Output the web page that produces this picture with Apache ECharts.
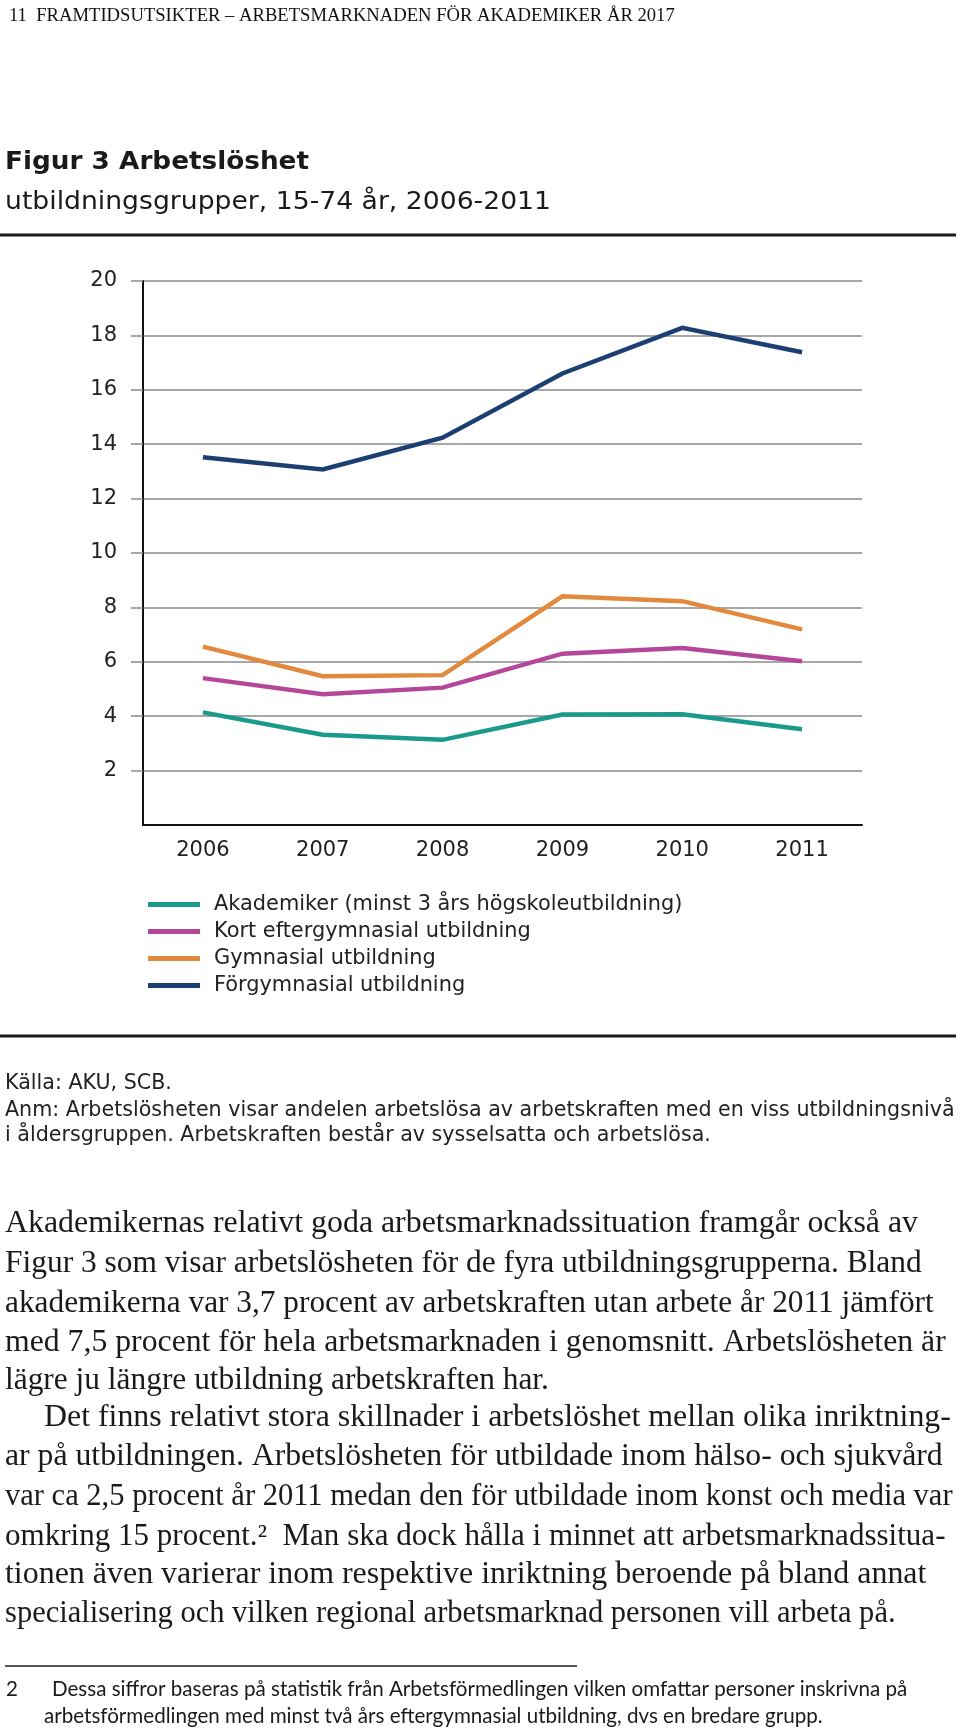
<!DOCTYPE html>
<html>
<head>
<meta charset="utf-8">
<script src="https://cdn.jsdelivr.net/npm/echarts@6/dist/echarts.min.js"></script>
<style>
html,body{margin:0;padding:0;background:#fff;}
#chart{width:960px;height:1731px;}
</style>
</head>
<body>
<div id="chart"></div>
<script>
// ---- data ----
const years = ['2006', '2007', '2008', '2009', '2010', '2011'];
const akademiker = [4.14, 3.32, 3.13, 4.06, 4.07, 3.52];
const kortEfter = [5.40, 4.81, 5.05, 6.30, 6.51, 6.02];
const gymnasial = [6.56, 5.47, 5.51, 8.41, 8.23, 7.19];
const forgymnasial = [13.52, 13.07, 14.24, 16.60, 18.28, 17.38];
const yTicks = [2, 4, 6, 8, 10, 12, 14, 16, 18, 20];
const seriesNames = [
  'Akademiker (minst 3 års högskoleutbildning)',
  'Kort eftergymnasial utbildning',
  'Gymnasial utbildning',
  'Förgymnasial utbildning'
];
const seriesColors = ['#1a9a8b', '#b5479b', '#e3893d', '#1c3f73'];

const headerText = '11  FRAMTIDSUTSIKTER – ARBETSMARKNADEN FÖR AKADEMIKER ÅR 2017';
const titleText = 'Figur 3 Arbetslöshet';
const subtitleText = 'utbildningsgrupper, 15-74 år, 2006-2011';
const sourceLines = [
  'Källa: AKU, SCB.',
  'Anm: Arbetslösheten visar andelen arbetslösa av arbetskraften med en viss utbildningsnivå',
  'i åldersgruppen. Arbetskraften består av sysselsatta och arbetslösa.'
];
const bodyLines = [
  'Akademikernas relativt goda arbetsmarknadssituation framgår också av',
  'Figur 3 som visar arbetslösheten för de fyra utbildningsgrupperna. Bland',
  'akademikerna var 3,7 procent av arbetskraften utan arbete år 2011 jämfört',
  'med 7,5 procent för hela arbetsmarknaden i genomsnitt. Arbetslösheten är',
  'lägre ju längre utbildning arbetskraften har.',
  'Det finns relativt stora skillnader i arbetslöshet mellan olika inriktning-',
  'ar på utbildningen. Arbetslösheten för utbildade inom hälso- och sjukvård',
  'var ca 2,5 procent år 2011 medan den för utbildade inom konst och media var',
  'omkring 15 procent.²  Man ska dock hålla i minnet att arbetsmarknadssitua-',
  'tionen även varierar inom respektive inriktning beroende på bland annat',
  'specialisering och vilken regional arbetsmarknad personen vill arbeta på.'
];
const footnoteNum = '2';
const footnoteLines = [
  'Dessa siffror baseras på statistik från Arbetsförmedlingen vilken omfattar personer inskrivna på',
  'arbetsförmedlingen med minst två års eftergymnasial utbildning, dvs en bredare grupp.'
];

// ---- helpers ----
const cv = document.createElement('canvas').getContext('2d');
function measure(text, family, weight, size) {
  cv.font = (weight || 'normal') + ' ' + size + 'px ' + family;
  return cv.measureText(text).width;
}
function fitSize(text, family, weight, target) {
  return 100 * target / measure(text, family, weight, 100);
}

const SANS = '"DejaVu Sans", Verdana, sans-serif';
const SERIF = '"Liberation Serif", "Times New Roman", serif';
const HUM = 'Lato, "Open Sans", sans-serif';

const headerSize = fitSize(headerText, '"Liberation Serif"', 'normal', 666);
const srcSize = fitSize(sourceLines[1], '"DejaVu Sans"', 'normal', 950);
const legendSize = fitSize(seriesNames[0], '"DejaVu Sans"', 'normal', 469);
// body: per-line fit (right edges of the reference lines)
const bodyStarts = [5, 5, 5, 5, 5, 44, 5, 5, 5, 5, 5];
const bodyEnds = [918, 922, 934, 946, null, 951, 943, 953, 946, 927, 896];
let sumT = 0, sumW = 0;
bodyLines.forEach((l, i) => { if (bodyEnds[i]) { sumT += bodyEnds[i] - bodyStarts[i]; sumW += measure(l, '"Liberation Serif"', 'normal', 100); } });
const bodyCommon = 100 * sumT / sumW;
const bodySizes = bodyLines.map((l, i) => bodyEnds[i] ? fitSize(l, '"Liberation Serif"', 'normal', bodyEnds[i] - bodyStarts[i]) : bodyCommon);
const footSize = fitSize(footnoteLines[0], 'Lato', 'normal', 856);

const graphics = [];
function txt(x, y, text, size, family, weight, color, targetW) {
  let sx = 1;
  if (targetW) sx = targetW / measure(text, family.split(',')[0], weight, size);
  graphics.push({
    type: 'text', x: x, y: y, scaleX: sx, silent: true,
    style: { text: text, x: 0, y: 0, fontSize: size, fontFamily: family, fontWeight: weight || 'normal', fill: color || '#1a1a1a', verticalAlign: 'middle', align: 'left' }
  });
}
function hline(x1, x2, y, w, color) {
  graphics.push({ type: 'line', silent: true, shape: { x1: x1, y1: y, x2: x2, y2: y }, style: { stroke: color || '#1a1a1a', lineWidth: w } });
}

txt(9, 16, headerText, headerSize, SERIF, 'normal', '#111');
txt(5, 162, titleText, 25, SANS, 'bold', '#1a1a1a', 304);
txt(5, 203, subtitleText, 24.5, SANS, 'normal', '#1a1a1a', 546);
hline(0, 956, 235, 3);
hline(0, 956, 1036, 3);
const srcY = [1084, 1111, 1136];
sourceLines.forEach((l, i) => txt(5, srcY[i], l, srcSize, SANS, 'normal', '#222'));
const bodyY = [1224, 1264, 1304, 1343, 1381, 1418, 1457, 1497, 1537, 1575, 1614];
bodyLines.forEach((l, i) => txt(bodyStarts[i], bodyY[i], l, bodySizes[i], SERIF, 'normal', '#1a1a1a'));
hline(5, 577, 1666, 1.5);
txt(6, 1689, footnoteNum, footSize, HUM, 'normal', '#1a1a1a');
txt(52, 1689, footnoteLines[0], footSize, HUM, 'normal', '#1a1a1a');
txt(44, 1716, footnoteLines[1], footSize, HUM, 'normal', '#1a1a1a');

const seriesData = [akademiker, kortEfter, gymnasial, forgymnasial];

const chart = echarts.init(document.getElementById('chart'), null, { renderer: 'canvas' });
chart.setOption({
  animation: false,
  backgroundColor: '#fff',
  textStyle: { fontFamily: SANS },
  grid: { left: 143, right: 98, top: 281, bottom: 906, containLabel: false },
  legend: {
    orient: 'vertical', left: 143, top: 889,
    itemWidth: 52, itemHeight: 5, itemGap: 6, icon: 'rect',
    selectedMode: false,
    textStyle: { fontSize: legendSize, lineHeight: 21, color: '#222', fontFamily: SANS, padding: [0, 0, 0, 9] },
    data: seriesNames
  },
  xAxis: {
    type: 'category', data: years, boundaryGap: true,
    axisLine: { show: true, lineStyle: { color: '#111', width: 2 } },
    axisTick: { show: false },
    axisLabel: { fontSize: 21, color: '#222', margin: 15, fontFamily: SANS }
  },
  yAxis: {
    type: 'value', min: 0, max: 20, interval: 2,
    axisLine: { show: true, lineStyle: { color: '#111', width: 2 } },
    axisTick: { show: true, length: 12, customValues: yTicks, lineStyle: { color: '#8a8a8a', width: 1.5 } },
    axisLabel: { fontSize: 21, color: '#222', margin: 26, fontFamily: SANS, customValues: yTicks },
    splitLine: { show: true, lineStyle: { color: '#8a8a8a', width: 1.5 } }
  },
  series: seriesNames.map((n, i) => ({
    name: n, type: 'line', data: seriesData[i], symbol: 'none',
    itemStyle: { color: seriesColors[i] },
    lineStyle: { color: seriesColors[i], width: 4.5, cap: 'butt', join: 'miter' }
  })),
  graphic: graphics
});
</script>
</body>
</html>
